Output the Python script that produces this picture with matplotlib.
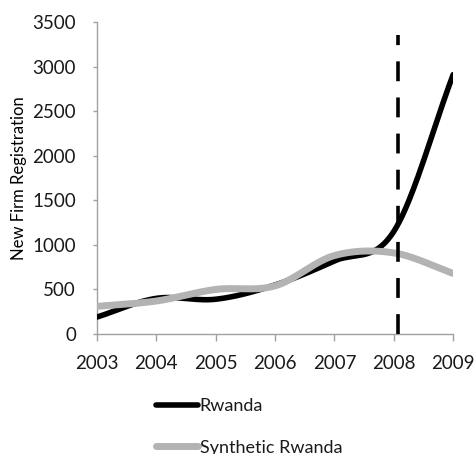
import numpy as np
import matplotlib.pyplot as plt

years = [2003, 2004, 2005, 2006, 2007, 2008, 2009]
rwanda = [190, 400, 390, 550, 820, 1150, 2910]
synthetic = [310, 370, 500, 540, 880, 910, 680]
treatment_year = 2008.07
y_ticks = [0, 500, 1000, 1500, 2000, 2500, 3000, 3500]


def smooth(xs, ys, n=40):
    # Catmull-Rom curve through the points, like a spreadsheet "smoothed line"
    x = np.asarray(xs, float)
    y = np.asarray(ys, float)
    px = np.concatenate([[2 * x[0] - x[1]], x, [2 * x[-1] - x[-2]]])
    py = np.concatenate([[2 * y[0] - y[1]], y, [2 * y[-1] - y[-2]]])
    out_x, out_y = [], []
    t = np.linspace(0, 1, n)
    for i in range(1, len(px) - 2):
        for p, out in ((px, out_x), (py, out_y)):
            p0, p1, p2, p3 = p[i - 1], p[i], p[i + 1], p[i + 2]
            seg = 0.5 * ((2 * p1) + (-p0 + p2) * t
                         + (2 * p0 - 5 * p1 + 4 * p2 - p3) * t ** 2
                         + (-p0 + 3 * p1 - 3 * p2 + p3) * t ** 3)
            out.extend(seg)
    return np.array(out_x), np.array(out_y)


plt.rcParams['font.family'] = ['Lato', 'DejaVu Sans']
plt.rcParams['text.color'] = '#1a1a1a'

fig = plt.figure(figsize=(4.75, 4.54), dpi=100)
ax = fig.add_axes([0.204, 0.2643, 0.750, 0.6872])

sx, sy = smooth(years, synthetic)
rx, ry = smooth(years, rwanda)
l1, = ax.plot(rx, ry, color='black', lw=4, solid_capstyle='round', label='Rwanda', zorder=3)
l2, = ax.plot(sx, sy, color='#b3b3b3', lw=5, solid_capstyle='round', label='Synthetic Rwanda', zorder=4)
ax.plot([treatment_year, treatment_year], [0, 3350], color='black', lw=2.6,
        dashes=(5.5, 4.5), zorder=5)

ax.set_xlim(2003, 2009)
ax.set_ylim(0, 3500)
ax.set_xticks(years)
ax.set_yticks(y_ticks)
ax.tick_params(axis='x', length=5, width=1, color='#a0a0a0', labelsize=13.5,
               labelcolor='#1a1a1a', pad=10)
ax.tick_params(axis='y', length=3, width=1, color='#a0a0a0', labelsize=13.5,
               labelcolor='#1a1a1a', pad=12)
for side in ['top', 'right']:
    ax.spines[side].set_visible(False)
for side in ['left', 'bottom']:
    ax.spines[side].set_color('#a0a0a0')
    ax.spines[side].set_linewidth(1)
ax.set_ylabel('New Firm Registration', fontsize=12, labelpad=4)

fig.legend([l1, l2], ['Rwanda', 'Synthetic Rwanda'], loc='upper left',
           bbox_to_anchor=(140 / 475, 1 - 382 / 454), frameon=False,
           fontsize=13, handlelength=2.3, handletextpad=0.1, labelspacing=1.4)

fig.savefig('out.png', dpi=100)
